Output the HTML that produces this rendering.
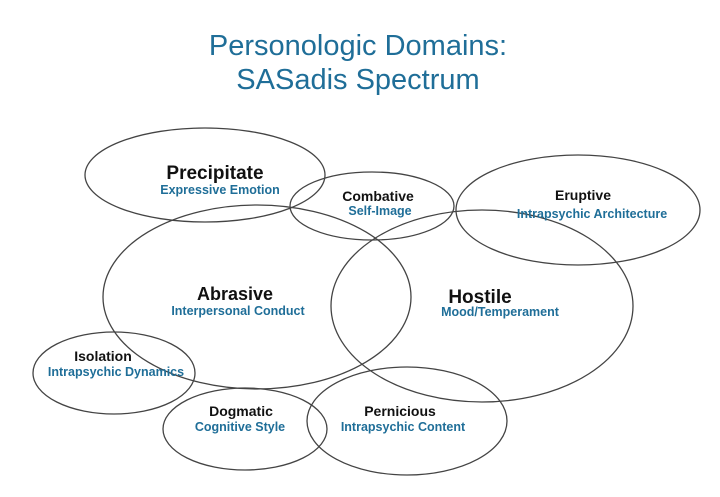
<!DOCTYPE html>
<html><head><meta charset="utf-8"><style>
html,body{margin:0;padding:0;background:#fff;width:720px;height:497px;overflow:hidden}
svg{display:block}
.t{font-family:"Liberation Sans",sans-serif;fill:#1f6e98;font-size:29px;text-anchor:middle}
.h{font-family:"Liberation Sans",sans-serif;font-weight:bold;fill:#111;text-anchor:middle}
.s{font-family:"Liberation Sans",sans-serif;font-weight:bold;fill:#1f6e98;font-size:12.5px;text-anchor:middle}
ellipse{fill:none;stroke:#444;stroke-width:1.3}
</style></head><body>
<svg width="720" height="497" viewBox="0 0 720 497">
<text class="t" x="358" y="55">Personologic Domains:</text>
<text class="t" x="358" y="89">SASadis Spectrum</text>
<ellipse cx="205" cy="175" rx="120" ry="47"/>
<ellipse cx="372" cy="206" rx="82" ry="34"/>
<ellipse cx="578" cy="210" rx="122" ry="55"/>
<ellipse cx="257" cy="297" rx="154" ry="92"/>
<ellipse cx="482" cy="306" rx="151" ry="96"/>
<ellipse cx="114" cy="373" rx="81" ry="41"/>
<ellipse cx="245" cy="429" rx="82" ry="41"/>
<ellipse cx="407" cy="421" rx="100" ry="54"/>
<text class="h" x="215" y="179" font-size="19">Precipitate</text>
<text class="s" x="220" y="194">Expressive Emotion</text>
<text class="h" x="378" y="201" font-size="14">Combative</text>
<text class="s" x="380" y="215">Self-Image</text>
<text class="h" x="583" y="200" font-size="14">Eruptive</text>
<text class="s" x="592" y="218">Intrapsychic Architecture</text>
<text class="h" x="235" y="300" font-size="18">Abrasive</text>
<text class="s" x="238" y="315">Interpersonal Conduct</text>
<text class="h" x="480" y="303" font-size="19">Hostile</text>
<text class="s" x="500" y="316">Mood/Temperament</text>
<text class="h" x="103" y="361" font-size="14">Isolation</text>
<text class="s" x="116" y="376">Intrapsychic Dynamics</text>
<text class="h" x="241" y="416" font-size="14">Dogmatic</text>
<text class="s" x="240" y="431">Cognitive Style</text>
<text class="h" x="400" y="416" font-size="14">Pernicious</text>
<text class="s" x="403" y="431">Intrapsychic Content</text>
</svg>
</body></html>
